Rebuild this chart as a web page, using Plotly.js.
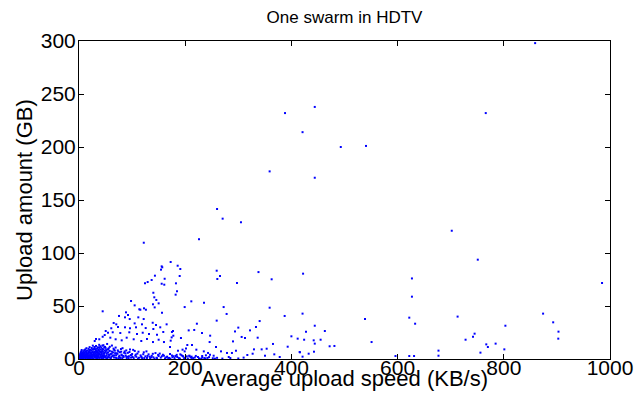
<!DOCTYPE html>
<html>
<head>
<meta charset="utf-8">
<script src="https://cdn.plot.ly/plotly-3.0.1.min.js"></script>
<style>html,body{margin:0;padding:0;background:#fff;}#chart{width:637px;height:411px;}</style>
</head>
<body>
<div id="chart"></div>
<script>
// Scattered peers: [average upload speed (KB/s), upload amount (GB)]
const sparsePeers = [
[859,298],[444,237.8],[388,232],[766,232],[421,214],[540.5,201],[493,200],[359,177],[444,171],[260,141.5],[270.5,132.4],[305,129],[702,121],[226,113],[122,109.7],
[751,93.7],[172.6,91.5],[185.8,88],[155.7,87.4],[156.8,86.5],[190.8,84.9],[154.4,84.3],[259.3,83.3],[338,82],[422,80.5],[189.6,78.3],[143,78.6],[265.5,78.3],[627,76],[161.3,75.7],[260.5,75.5],[362.8,75.2],[136.8,74.5],[129.3,72.6],[985,71.7],[297.5,71.7],[124.3,71.4],[182.6,71.4],[155.7,71],[160.6,70.1],[184.5,63.9],[140,62.5],[182,60.7],[627,58.8],[141.8,58.2],[145.6,55.7],[98,54.7],[211.5,54.4],[235.4,53.1],[150,52.5],[139.3,51.6],[104.8,50.6],[199,49],[272.4,49],[359,48.4],[142.5,48.7],[122.4,47.8],[113.6,46.9],[115.5,46.5],[126,46.5],[44.6,45],[156.3,43.7],[88.5,44],[421,42.8],[874,42.8],[278,42.5],[92.3,41.5],[75.3,40.6],[387.3,40.6],[713,40],[622,39],[86.6,39.3],[111.7,39.3],[538.6,37.7],[95.5,37.7],[121.8,37.7],[259.3,36.2],[340.2,35.8],[893,34.6],[138.8,34.2],[65.3,34],[104.8,33.6],[633,33.3],[222,33.3],[70.2,32.7],[118.6,32.7],[165,32.7],[145,32],[444,31.4],[803,31.4],[333.3,30.2],[73.4,30.2],[107.3,29.9],[86.6,29.9],[153,29.9],[300,29.6],[125.6,29.2],[60.8,29],[96,29],[140,28.3],[322,27],[206.6,27],[217,27.4],[177,26.4],[463,26.4],[50.3,26.4],[293.8,26],[427.5,25.8],[903,25.8],[158.7,25.5],[175,25.5],[63.5,25.2],[94.7,25.2],[54.6,24.8],[120,24.8],[231.6,24.5],[77.8,24.5],[745,23.9],[109.2,23.6],[131.8,23.6],[146.9,22.9],[48.4,22.6],[247,22],[177.6,22],[400,21.4],[44.6,21],[742,21],[306.3,20.8],[174.5,20.4],[59,20.1],[89.8,20.1],[336.5,20.1],[192,19.8],[312.6,19.8],[411.8,19.2],[902.6,19.2],[32,18.9],[128,18.9],[38.2,18.6],[69,18.6],[103,18.6],[424,18.2],[455,18.2],[728,18.2],[150,18.2],[442,17.6],[80.4,17.6],[172.7,17.3],[29.6,17],[117.3,17],[290,16.6],[246,16],[551,16],[139.3,16],[160,16],[444,14.5],[784.6,14.5],[365.3,14.2],[767,13.8],[204,13.2],[212.8,13.2],[481,12.3],[472,12],[393,11.6],[258,11.3],[171.4,11.3],[770,11.3],[201.5,10],[329.5,9.1],[344,9.1],[801,9.1],[221,8.8],[195,8.8],[353.4,9.7],[677,7.9],[186.4,7.8],[295.6,7.8],[235,7.2],[267.4,7.2],[199,7.2],[442.5,6.9],[415.6,6.6],[416,6.3],[756,6],[278.7,5.7],[288,5.7],[243,5.7],[432.5,5],[327,5],[171.4,4.7],[367.8,4.4],[190.8,4.4],[246.7,4.1],[317,3.8],[239,3.5],[677,3.1],[350.3,3.1],[253.6,3.1],[207.7,3.1],[596,2.8],[622,2.8],[631,2.8],[232,2.8],[182,2.8],[195,2.8],[421,2.2],[212,2.2],[378,1.9],[282,1.9]
];
// Dense cluster of slow peers near the origin
const clusterPeers = [
[1,0.5],[2,1],[3,0.3],[4,2],[5,1],[6,3],[7,0.8],[8,2.5],[9,4],[10,1.5],[11,5],[12,0.6],[13,3],[14,6],[15,2],[16,4.5],[17,1],[18,7],[19,3.5],[20,0.4],[21,5.5],[22,2.2],[23,8],[24,1.2],[25,4],[26,9],[27,0.7],[28,6],[29,3],[30,10],[31,1.8],[32,7.5],[33,4.6],[34,0.5],[35,11],[36,2.7],[37,8.5],[38,5.2],[39,1.1],[40,12],[41,3.8],[42,6.6],[43,0.9],[44,9.5],[45,2.4],[46,13],[47,5],[48,7.8],[49,1.5],[50,10.5],[52,3.2],[53,0.6],[54,6.1],[55,8.9],[56,2],[58,11.5],[59,4.3],[60,0.8],[62,7],[63,2.9],[65,9.8],[66,1.4],[68,5.5],[70,3.6],[71,0.7],[73,8.1],[75,2.3],[77,6.4],[78,1],[80,4.2],[82,10.2],[84,1.8],[86,7.2],[88,3.1],[90,0.5],[92,5.8],[94,2.6],[96,9],[98,1.3],[100,4.7],[103,0.9],[105,7.6],[108,2.1],[110,5.1],[113,1.2],[116,3.4],[119,0.6],[122,6.3],[125,2.5],[128,1],[131,4.4],[134,0.8],[137,3],[140,1.6],[144,5.6],[147,0.7],[150,2.8],[154,1.3],[158,4],[162,0.6],[166,2.2],[170,1],[175,3.3],[180,0.9],[185,1.9],[190,0.4],[196,2.4],[200,1.2],[205,0.5],[210,1.7],[215,0.8],[220,2.9],[226,0.6],[232,1.4],[238,0.5],[245,1.8],[252,0.7],[260,1.1],[270,0.4],[285,0.9],[300,0.5],[310,1.3],
[0.5,0.2],[1.5,2],[2.5,0.8],[3.5,3],[4.5,0.4],[5.5,4.5],[6.5,1.8],[7.5,5],[8.5,0.3],[9.5,2.8],[10.5,6.5],[11.5,3.2],[12.5,1],[13.5,7.5],[14.5,4],[15.5,0.6],[16.5,2.8],[17.5,5.8],[18.5,1.6],[19.5,8.5],[20.5,3],[21.5,0.9],[22.5,6.2],[23.5,4.2],[24.5,2],[25.5,7],[26.5,0.3],[27.5,4.8],[28.5,9.5],[29.5,1.9],[30.5,5.6],[31.5,3.4],[32.5,0.9],[33.5,8],[34.5,6],[35.5,2.1],[36.5,4.4],[37.5,1.2],[38.5,10.5],[39.5,6.8],[41.5,1.7],[42.5,4.9],[43.5,8.3],[44.5,3.1],[45.5,0.4],[47.5,11],[48.5,2.6],[50.5,6.7],[51.5,0.7],[53.5,9.1],[55.5,4],[57.5,1.3],[61.5,5.1],[64.5,3.3],[67.5,7.9],[69.5,1.2],[72.5,4.9],[74.5,0.4],[76.5,3.1],[79.5,6.9],[81.5,0.8],[83.5,2.9],[87.5,5.3],[89.5,1.7],[93.5,0.9],[97.5,3.7],[101,1.9],[106,3.1],[111,0.4],[117,2.2],[123,0.9],[129,2.9],[136,1.6],[142,0.4],[149,3.9],[156,2.6],[164,1.5],[172,0.3],[178,2.6],[188,0.9],[193,3.6],[203,2.5],[212,1],[224,1.9],[236,0.9],
[0.3,1],[1,3],[2,4.5],[3,6],[0.8,2],[4,7],[5,8.5],
[2,2.8],[3,1.6],[4,5.2],[5,2.6],[6,6.1],[6,0.2],[7,3.8],[8,7.3],[8,1.2],[9,5.6],[10,3.2],[10,8.4],[11,1.9],[12,4.4],[12,9.1],[13,6.8],[14,2.3],[14,10.2],[15,5.3],[16,7.9],[16,1.4],[17,3.1],[18,9.6],[18,4.9],[19,1.9],[20,6.6],[20,11.2],[21,3.7],[22,8.7],[22,0.5],[23,5.5],[24,10.4],[24,3.3],[25,1.5],[26,6.1],[26,12.6],[27,2.9],[27,8.9],[28,4.1],[29,11.3],[29,6.6],[30,1.3],[30,3.7],[31,8.6],[32,2.6],[32,12.3],[33,6.4],[34,9.7],[34,3.7],[35,1.4],[35,7.2],[36,5.6],[37,10.8],[37,2.8],[38,7.4],[38,13.4],[39,4.2],[40,1.6],[40,8.8],[41,6.1],[42,10.7],[42,2.6],[43,4.7],[44,12.6],[45,6.7],[46,1.9],[46,9.1],[47,3.6],[48,5.7],[49,11.4],[50,2.4],[51,8.4],[52,4.9],[53,14.2],[54,1.7],[55,6.2],[56,10.1],[57,3.7],[58,7.6],[60,4.8],[61,1.9],[62,12.7],[64,6.2],[66,8.7],[67,3.4],[69,10.8],[71,5.4],[74,7.1],[76,1.6],[79,9.4],[81,3.3],[85,5.9],[89,8.1],[91,2.1],[95,6.6],[99,3.4],[102,8.6],[107,4.2],[112,6.9],[118,1.5],[121,4.5],[127,7.2],[133,2.2],[139,4.9],[146,1.2],[152,5.1],[160,3.1],[168,0.9],[176,1.7],[184,3.9],[198,0.8],[208,2.9],[218,1.4],[230,0.3],[242,1],[256,0.4]
];
const xTickVals = [0,200,400,600,800,1000];
const yTickVals = [0,50,100,150,200,250,300];

const allPeers = sparsePeers.concat(clusterPeers);
const speed = allPeers.map(p => p[0]);
const amount = allPeers.map(p => p[1]);

const font = 'Liberation Sans, Arial, Helvetica, sans-serif';
const axisCommon = {
  showgrid: false, zeroline: false, showline: true, mirror: 'ticks',
  linecolor: '#000', linewidth: 1, ticks: 'inside', ticklen: 5, tickcolor: '#000',
  tickfont: {family: font, size: 21, color: '#000'}, automargin: false
};

Plotly.newPlot('chart', [{
  type: 'scatter', mode: 'markers', x: speed, y: amount,
  marker: {symbol: 'square', size: 2, color: '#0000ff', line: {width: 0}},
  hoverinfo: 'none'
}], {
  width: 637, height: 411,
  margin: {l: 79, r: 27, t: 41, b: 52},
  paper_bgcolor: '#fff', plot_bgcolor: '#fff',
  showlegend: false,
  title: {text: 'One swarm in HDTV', font: {family: font, size: 17, color: '#000'},
          x: 0.5, xref: 'paper', y: 1 - 17/411, yref: 'container', yanchor: 'middle'},
  xaxis: Object.assign({}, axisCommon, {range: [0, 1000], tickvals: xTickVals, ticklabelstandoff: -10}),
  yaxis: Object.assign({}, axisCommon, {range: [0, 300], tickvals: yTickVals, ticklabelstandoff: -2}),
  annotations: [
    {text: 'Average upload speed (KB/s)', xref: 'paper', yref: 'paper', x: 0.5, y: -19/318,
     xanchor: 'center', yanchor: 'middle', showarrow: false, font: {family: font, size: 22, color: '#000'}},
    {text: 'Upload amount (GB)', xref: 'paper', yref: 'paper', x: -55/531, y: 0.5, textangle: -90,
     xanchor: 'center', yanchor: 'middle', showarrow: false, font: {family: font, size: 22, color: '#000'}}
  ]
}, {staticPlot: true, displayModeBar: false});
</script>
</body>
</html>
